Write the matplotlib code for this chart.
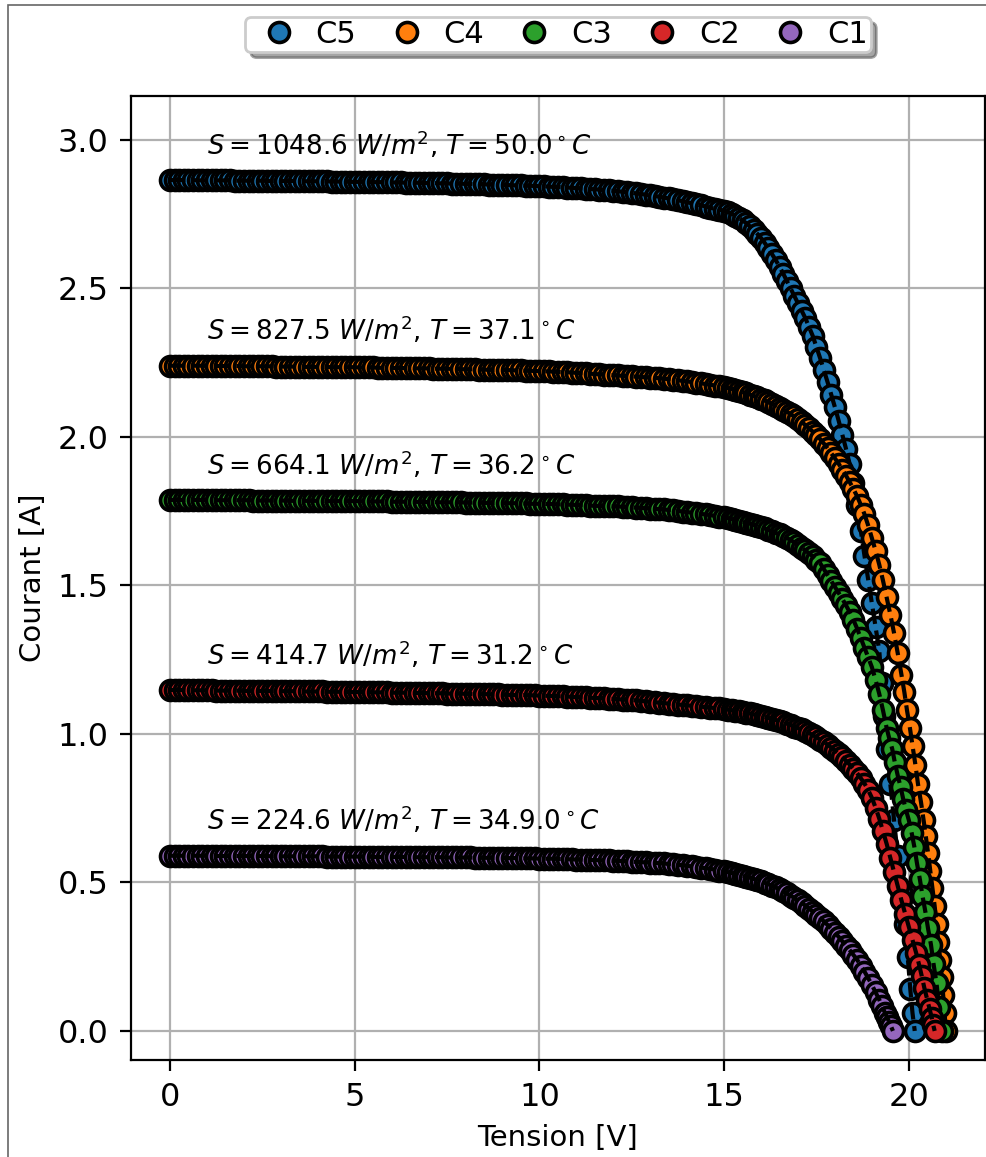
import numpy as np
import matplotlib.pyplot as plt
from matplotlib.patches import Rectangle


# Caracteristiques I-V mesurees, module PV (tension en V, courant en A)
tension_plat = [0.0, 0.125, 0.25, 0.375, 0.5, 0.625, 0.75, 0.875,
                1.0, 1.125, 1.25, 1.375, 1.5, 1.625, 1.75, 1.875,
                2.0, 2.125, 2.25, 2.375, 2.5, 2.625, 2.75, 2.875,
                3.0, 3.125, 3.25, 3.375, 3.5, 3.625, 3.75, 3.875,
                4.0, 4.125, 4.25, 4.375, 4.5, 4.625, 4.75, 4.875,
                5.0, 5.125, 5.25, 5.375, 5.5, 5.625, 5.75, 5.875,
                6.0, 6.125, 6.25, 6.375, 6.5, 6.625, 6.75, 6.875,
                7.0, 7.125, 7.25, 7.375, 7.5, 7.625, 7.75, 7.875,
                8.0, 8.125, 8.25, 8.375, 8.5, 8.625, 8.75, 8.875,
                9.0, 9.125, 9.25, 9.375, 9.5, 9.625, 9.75, 9.875,
                10.0, 10.125, 10.25, 10.375, 10.5, 10.625, 10.75, 10.875,
                11.0, 11.125, 11.25, 11.375, 11.5, 11.625, 11.75, 11.875,
                12.0, 12.125, 12.25, 12.375, 12.5, 12.625, 12.75, 12.875,
                13.0, 13.125, 13.25, 13.375, 13.5, 13.625, 13.75, 13.875,
                14.0, 14.125, 14.25, 14.375, 14.5, 14.625, 14.75, 14.875,
                15.0]

# C5
tension_c5 = tension_plat + [15.1, 15.2, 15.3, 15.4, 15.5, 15.6, 15.7, 15.8, 15.9, 16.0,
                             16.1, 16.2, 16.3, 16.4, 16.5, 16.6, 16.7, 16.8, 16.9, 17.0,
                             17.1, 17.2, 17.3, 17.4, 17.5, 17.6, 17.7, 17.8, 17.9, 18.0,
                             18.1, 18.2, 18.3, 18.4, 18.5, 18.6, 18.7, 18.8, 18.9, 19.0,
                             19.1, 19.2, 19.27, 19.34, 19.42, 19.5, 19.6, 19.7, 19.8, 19.9,
                             19.97, 20.04, 20.1, 20.16]
courant_c5 = [2.865, 2.865, 2.865, 2.865, 2.865, 2.865, 2.864, 2.864,
              2.864, 2.864, 2.864, 2.864, 2.864, 2.864, 2.863, 2.863,
              2.863, 2.863, 2.863, 2.863, 2.863, 2.862, 2.862, 2.862,
              2.862, 2.862, 2.862, 2.862, 2.862, 2.861, 2.861, 2.861,
              2.861, 2.861, 2.861, 2.860, 2.860, 2.860, 2.860, 2.859,
              2.859, 2.859, 2.859, 2.858, 2.858, 2.858, 2.858, 2.857,
              2.857, 2.857, 2.857, 2.856, 2.856, 2.856, 2.856, 2.855,
              2.855, 2.855, 2.854, 2.854, 2.854, 2.853, 2.853, 2.853,
              2.852, 2.852, 2.851, 2.851, 2.851, 2.850, 2.850, 2.849,
              2.849, 2.848, 2.848, 2.847, 2.847, 2.846, 2.846, 2.845,
              2.845, 2.844, 2.843, 2.842, 2.842, 2.841, 2.840, 2.839,
              2.838, 2.837, 2.836, 2.835, 2.834, 2.833, 2.831, 2.830,
              2.829, 2.827, 2.826, 2.824, 2.822, 2.820, 2.818, 2.816,
              2.814, 2.811, 2.809, 2.806, 2.803, 2.800, 2.797, 2.794,
              2.790, 2.787, 2.783, 2.780, 2.776, 2.772, 2.768, 2.765,
              2.762,
              2.757, 2.752, 2.745, 2.738, 2.729, 2.720, 2.709, 2.697, 2.684, 2.670,
              2.653, 2.635, 2.615, 2.595, 2.573, 2.550, 2.525, 2.500, 2.475, 2.450,
              2.425, 2.400, 2.370, 2.340, 2.303, 2.265, 2.225, 2.185, 2.143, 2.100,
              2.055, 2.007, 1.960, 1.908, 1.845, 1.770, 1.685, 1.600, 1.520, 1.440,
              1.360, 1.280, 1.170, 1.060, 0.950, 0.830, 0.710, 0.590, 0.470, 0.360,
              0.250, 0.140, 0.060, 0.000]

# C4
tension_c4 = tension_plat + [15.1, 15.2, 15.3, 15.4, 15.5, 15.6, 15.7, 15.8, 15.9, 16.0,
                             16.1, 16.2, 16.3, 16.4, 16.5, 16.6, 16.7, 16.8, 16.9, 17.0,
                             17.1, 17.2, 17.3, 17.4, 17.5, 17.6, 17.7, 17.8, 17.9, 18.0,
                             18.1, 18.2, 18.3, 18.4, 18.5, 18.6, 18.7, 18.8, 18.9, 19.0,
                             19.1, 19.2, 19.3, 19.4, 19.5, 19.6, 19.7, 19.8, 19.88, 19.95,
                             20.03, 20.1, 20.18, 20.25, 20.33, 20.4, 20.46, 20.52, 20.58, 20.64,
                             20.7, 20.75, 20.8, 20.85, 20.89, 20.93, 20.97, 21.0]
courant_c4 = [2.240, 2.240, 2.240, 2.240, 2.240, 2.240, 2.240, 2.240,
              2.239, 2.239, 2.239, 2.239, 2.239, 2.239, 2.239, 2.239,
              2.238, 2.238, 2.238, 2.238, 2.238, 2.238, 2.238, 2.237,
              2.237, 2.237, 2.237, 2.237, 2.237, 2.236, 2.236, 2.236,
              2.236, 2.236, 2.236, 2.235, 2.235, 2.235, 2.235, 2.235,
              2.235, 2.234, 2.234, 2.234, 2.234, 2.233, 2.233, 2.233,
              2.233, 2.232, 2.232, 2.232, 2.232, 2.231, 2.231, 2.231,
              2.231, 2.230, 2.230, 2.230, 2.230, 2.229, 2.229, 2.228,
              2.228, 2.228, 2.228, 2.227, 2.227, 2.226, 2.226, 2.226,
              2.226, 2.225, 2.225, 2.224, 2.224, 2.223, 2.223, 2.222,
              2.222, 2.221, 2.221, 2.220, 2.219, 2.218, 2.218, 2.217,
              2.216, 2.215, 2.214, 2.213, 2.212, 2.211, 2.210, 2.209,
              2.208, 2.207, 2.206, 2.205, 2.204, 2.203, 2.202, 2.201,
              2.200, 2.199, 2.198, 2.196, 2.195, 2.193, 2.191, 2.189,
              2.187, 2.185, 2.183, 2.181, 2.178, 2.176, 2.173, 2.171,
              2.168,
              2.165, 2.162, 2.159, 2.155, 2.151, 2.147, 2.143, 2.138, 2.133, 2.128,
              2.123, 2.117, 2.111, 2.105, 2.099, 2.092, 2.085, 2.077, 2.069, 2.060,
              2.050, 2.040, 2.029, 2.018, 2.006, 1.993, 1.978, 1.962, 1.945, 1.928,
              1.910, 1.890, 1.870, 1.848, 1.825, 1.800, 1.772, 1.740, 1.702, 1.660,
              1.617, 1.570, 1.517, 1.460, 1.402, 1.340, 1.272, 1.200, 1.140, 1.080,
              1.020, 0.960, 0.895, 0.830, 0.770, 0.710, 0.655, 0.600, 0.540, 0.480,
              0.420, 0.360, 0.300, 0.240, 0.180, 0.120, 0.060, 0.000]

# C3
tension_c3 = tension_plat + [15.1, 15.2, 15.3, 15.4, 15.5, 15.6, 15.7, 15.8, 15.9, 16.0,
                             16.1, 16.2, 16.3, 16.4, 16.5, 16.6, 16.7, 16.8, 16.9, 17.0,
                             17.1, 17.2, 17.3, 17.4, 17.5, 17.6, 17.7, 17.8, 17.9, 18.0,
                             18.1, 18.2, 18.3, 18.4, 18.5, 18.6, 18.7, 18.8, 18.9, 19.0,
                             19.1, 19.2, 19.3, 19.4, 19.47, 19.55, 19.62, 19.7, 19.78, 19.85,
                             19.92, 20.0, 20.08, 20.15, 20.22, 20.3, 20.37, 20.45, 20.52, 20.6,
                             20.67, 20.75, 20.82, 20.9]
courant_c3 = [1.788, 1.788, 1.788, 1.788, 1.788, 1.788, 1.788, 1.788,
              1.787, 1.787, 1.787, 1.787, 1.787, 1.787, 1.787, 1.787,
              1.787, 1.787, 1.786, 1.786, 1.786, 1.786, 1.786, 1.786,
              1.786, 1.786, 1.785, 1.785, 1.785, 1.785, 1.785, 1.785,
              1.785, 1.785, 1.784, 1.784, 1.784, 1.784, 1.784, 1.784,
              1.784, 1.784, 1.783, 1.783, 1.783, 1.783, 1.783, 1.783,
              1.782, 1.782, 1.782, 1.782, 1.782, 1.782, 1.781, 1.781,
              1.781, 1.781, 1.780, 1.780, 1.780, 1.780, 1.780, 1.780,
              1.779, 1.779, 1.779, 1.779, 1.778, 1.778, 1.778, 1.778,
              1.777, 1.777, 1.777, 1.777, 1.776, 1.776, 1.775, 1.775,
              1.775, 1.775, 1.774, 1.774, 1.773, 1.773, 1.772, 1.772,
              1.771, 1.771, 1.770, 1.769, 1.768, 1.768, 1.767, 1.767,
              1.766, 1.766, 1.765, 1.764, 1.763, 1.762, 1.761, 1.760,
              1.759, 1.758, 1.757, 1.756, 1.754, 1.753, 1.751, 1.749,
              1.747, 1.745, 1.743, 1.741, 1.739, 1.737, 1.734, 1.732,
              1.729,
              1.727, 1.724, 1.721, 1.718, 1.715, 1.711, 1.708, 1.704, 1.700, 1.696,
              1.692, 1.687, 1.682, 1.677, 1.672, 1.666, 1.660, 1.653, 1.645, 1.636,
              1.627, 1.618, 1.608, 1.598, 1.587, 1.575, 1.555, 1.535, 1.515, 1.495,
              1.475, 1.455, 1.433, 1.410, 1.384, 1.355, 1.323, 1.290, 1.258, 1.225,
              1.182, 1.135, 1.080, 1.020, 0.985, 0.950, 0.905, 0.860, 0.820, 0.780,
              0.745, 0.710, 0.665, 0.620, 0.565, 0.510, 0.455, 0.400, 0.345, 0.290,
              0.225, 0.160, 0.080, 0.000]

# C2
tension_c2 = tension_plat + [15.1, 15.2, 15.3, 15.4, 15.5, 15.6, 15.7, 15.8, 15.9, 16.0,
                             16.1, 16.2, 16.3, 16.4, 16.5, 16.6, 16.7, 16.8, 16.9, 17.0,
                             17.1, 17.2, 17.3, 17.4, 17.5, 17.6, 17.7, 17.8, 17.9, 18.0,
                             18.1, 18.2, 18.3, 18.4, 18.5, 18.6, 18.7, 18.8, 18.9, 19.0,
                             19.1, 19.2, 19.3, 19.4, 19.5, 19.6, 19.7, 19.8, 19.9, 20.0,
                             20.1, 20.2, 20.28, 20.35, 20.42, 20.5, 20.56, 20.62, 20.66, 20.7]
courant_c2 = [1.148, 1.148, 1.148, 1.148, 1.147, 1.147, 1.147, 1.147,
              1.147, 1.147, 1.146, 1.146, 1.146, 1.146, 1.146, 1.146,
              1.145, 1.145, 1.145, 1.145, 1.145, 1.145, 1.144, 1.144,
              1.144, 1.144, 1.144, 1.144, 1.143, 1.143, 1.143, 1.143,
              1.143, 1.143, 1.142, 1.142, 1.142, 1.142, 1.141, 1.141,
              1.141, 1.141, 1.141, 1.141, 1.140, 1.140, 1.140, 1.140,
              1.139, 1.139, 1.139, 1.139, 1.138, 1.138, 1.138, 1.138,
              1.137, 1.137, 1.137, 1.137, 1.136, 1.136, 1.136, 1.136,
              1.135, 1.135, 1.134, 1.134, 1.134, 1.134, 1.133, 1.133,
              1.132, 1.132, 1.131, 1.131, 1.131, 1.131, 1.130, 1.130,
              1.129, 1.129, 1.128, 1.128, 1.127, 1.127, 1.126, 1.125,
              1.124, 1.124, 1.123, 1.122, 1.121, 1.121, 1.120, 1.119,
              1.118, 1.117, 1.116, 1.115, 1.114, 1.113, 1.111, 1.110,
              1.108, 1.107, 1.105, 1.104, 1.102, 1.101, 1.099, 1.098,
              1.096, 1.095, 1.093, 1.092, 1.090, 1.089, 1.087, 1.086,
              1.084,
              1.082, 1.080, 1.078, 1.076, 1.074, 1.071, 1.069, 1.066, 1.063, 1.060,
              1.057, 1.054, 1.051, 1.047, 1.043, 1.039, 1.035, 1.030, 1.025, 1.020,
              1.015, 1.009, 1.003, 0.996, 0.989, 0.981, 0.973, 0.964, 0.954, 0.944,
              0.933, 0.922, 0.910, 0.897, 0.883, 0.868, 0.851, 0.833, 0.811, 0.785,
              0.752, 0.715, 0.673, 0.630, 0.583, 0.535, 0.488, 0.440, 0.395, 0.350,
              0.306, 0.262, 0.222, 0.185, 0.145, 0.105, 0.075, 0.045, 0.020, 0.000]

# C1
tension_c1 = tension_plat + [15.1, 15.2, 15.3, 15.4, 15.5, 15.6, 15.7, 15.8, 15.9, 16.0,
                             16.1, 16.2, 16.3, 16.4, 16.5, 16.6, 16.7, 16.8, 16.9, 17.0,
                             17.1, 17.2, 17.3, 17.4, 17.5, 17.6, 17.7, 17.8, 17.9, 18.0,
                             18.1, 18.2, 18.3, 18.4, 18.5, 18.6, 18.7, 18.8, 18.9, 19.0,
                             19.1, 19.2, 19.27, 19.35, 19.41, 19.47, 19.52, 19.57]
courant_c1 = [0.590, 0.590, 0.590, 0.590, 0.590, 0.590, 0.590, 0.590,
              0.590, 0.590, 0.589, 0.589, 0.589, 0.589, 0.589, 0.589,
              0.589, 0.589, 0.589, 0.589, 0.589, 0.589, 0.588, 0.588,
              0.588, 0.588, 0.588, 0.588, 0.588, 0.588, 0.588, 0.588,
              0.588, 0.588, 0.587, 0.587, 0.587, 0.587, 0.587, 0.587,
              0.587, 0.587, 0.587, 0.587, 0.586, 0.586, 0.586, 0.586,
              0.586, 0.586, 0.586, 0.586, 0.585, 0.585, 0.585, 0.585,
              0.585, 0.585, 0.585, 0.585, 0.584, 0.584, 0.584, 0.584,
              0.584, 0.584, 0.583, 0.583, 0.583, 0.583, 0.583, 0.583,
              0.582, 0.582, 0.582, 0.582, 0.581, 0.581, 0.581, 0.581,
              0.580, 0.580, 0.580, 0.580, 0.579, 0.579, 0.578, 0.578,
              0.577, 0.577, 0.576, 0.576, 0.575, 0.575, 0.574, 0.574,
              0.573, 0.573, 0.572, 0.571, 0.570, 0.569, 0.568, 0.568,
              0.567, 0.566, 0.565, 0.564, 0.562, 0.561, 0.559, 0.558,
              0.556, 0.554, 0.552, 0.550, 0.548, 0.546, 0.543, 0.540,
              0.537,
              0.535, 0.532, 0.529, 0.526, 0.523, 0.519, 0.516, 0.512, 0.508, 0.504,
              0.499, 0.494, 0.489, 0.483, 0.477, 0.470, 0.463, 0.456, 0.448, 0.440,
              0.431, 0.422, 0.412, 0.402, 0.392, 0.381, 0.369, 0.357, 0.344, 0.331,
              0.317, 0.302, 0.287, 0.272, 0.256, 0.240, 0.220, 0.200, 0.178, 0.155,
              0.130, 0.105, 0.084, 0.062, 0.046, 0.030, 0.015, 0.000]

noms = ["C5", "C4", "C3", "C2", "C1"]
irradiance = ["1048.6", "827.5", "664.1", "414.7", "224.6"]
temperature = ["50.0", "37.1", "36.2", "31.2", "34.9.0"]
couleurs = ["tab:blue", "tab:orange", "tab:green", "tab:red", "tab:purple"]

tensions = [tension_c5, tension_c4, tension_c3, tension_c2, tension_c1]
courants = [courant_c5, courant_c4, courant_c3, courant_c2, courant_c1]

#%%
fig = plt.figure(figsize=(4.93, 5.785), dpi=200)
ax = fig.add_axes([0.1329, 0.0838, 0.866, 0.8332])
ax.grid(True, color="#b0b0b0", lw=0.8)

for v, i, nom, s, t, c in zip(tensions, courants, noms, irradiance, temperature, couleurs):
    v = np.array(v)
    i = np.array(i)
    ax.plot(v, i, "o", color=c, mec="k", mew=1.3, ms=7.2, label=nom, zorder=2)
    ax.plot(v, i, "--", color="k", lw=1.5, zorder=2)
    ax.text(1.0, i[0] + 0.085, r"$S = %s\ W/m^2$, $T = %s^\circ C$" % (s, t),
            fontsize=9.4, va="baseline", ha="left")

ax.set_xlim(-1.055, 22.06)
ax.set_ylim(-0.098, 3.148)
ax.set_xticks([0, 5, 10, 15, 20])
ax.set_yticks([0.0, 0.5, 1.0, 1.5, 2.0, 2.5, 3.0])
ax.tick_params(labelsize=11.5, length=4.0, pad=4.0)
ax.set_xlabel("Tension [V]", fontsize=10.5)
ax.set_ylabel("Courant [A]", fontsize=10.5)

ax.legend(loc="lower center", bbox_to_anchor=(0.5, 1.0456), borderaxespad=0,
          ncol=5, shadow=True, fancybox=True, fontsize=11, borderpad=0.1,
          handlelength=2.0, handletextpad=0.2, columnspacing=0.65)

# bord de la figure
fig.add_artist(Rectangle((8 / 986, -0.5), 1.5, 1.5 - 5 / 1157, transform=fig.transFigure,
                         fill=False, edgecolor="0.4", lw=0.6))

plt.savefig("out.png", dpi=200)
